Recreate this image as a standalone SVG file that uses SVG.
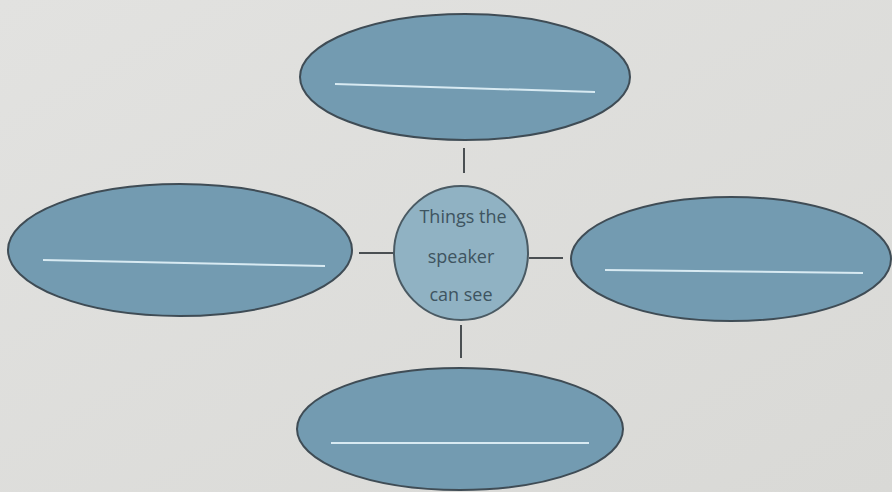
<svg xmlns="http://www.w3.org/2000/svg" width="892" height="492" viewBox="0 0 892 492">
<defs>
<style>
.ell{fill:#739bb1;stroke:#3f4c55;stroke-width:2}
.ctr{fill:#90b2c3;stroke:#4a5a63;stroke-width:2}
.blank{stroke:#d8eaf2;stroke-width:2;fill:none}
.con line{stroke:#4a4f52;stroke-width:2}
.lbl{font-family:"Open Sans","DejaVu Sans",sans-serif;font-size:18px;fill:#3e5460;text-anchor:middle}
</style>
<linearGradient id="bg" x1="0" y1="0" x2="1" y2="1">
<stop offset="0" stop-color="#e2e2e0"/>
<stop offset="1" stop-color="#d9d9d6"/>
</linearGradient>
</defs>
<rect width="892" height="492" fill="url(#bg)"/>
<g id="connectors" class="con">
<line x1="464" y1="148" x2="464" y2="173"/>
<line x1="359" y1="253" x2="394" y2="253"/>
<line x1="529" y1="258" x2="563" y2="258"/>
<line x1="461" y1="325" x2="461" y2="358"/>
</g>
<g id="node-top">
<ellipse class="ell" cx="465" cy="77" rx="165" ry="63"/>
<line class="blank" x1="335" y1="84" x2="595" y2="92"/>
</g>
<g id="node-left">
<ellipse class="ell" cx="180" cy="250" rx="172" ry="66"/>
<line class="blank" x1="43" y1="260" x2="325" y2="266"/>
</g>
<g id="node-right">
<ellipse class="ell" cx="731" cy="259" rx="160" ry="62"/>
<line class="blank" x1="605" y1="270" x2="863" y2="273"/>
</g>
<g id="node-bottom">
<ellipse class="ell" cx="460" cy="429" rx="163" ry="61"/>
<line class="blank" x1="331" y1="443" x2="589" y2="443"/>
</g>
<g id="node-center">
<circle class="ctr" cx="461" cy="253" r="67"/>
<text class="lbl" x="463" y="223">Things the</text>
<text class="lbl" x="461" y="263">speaker</text>
<text class="lbl" x="461" y="301">can see</text>
</g>
</svg>
